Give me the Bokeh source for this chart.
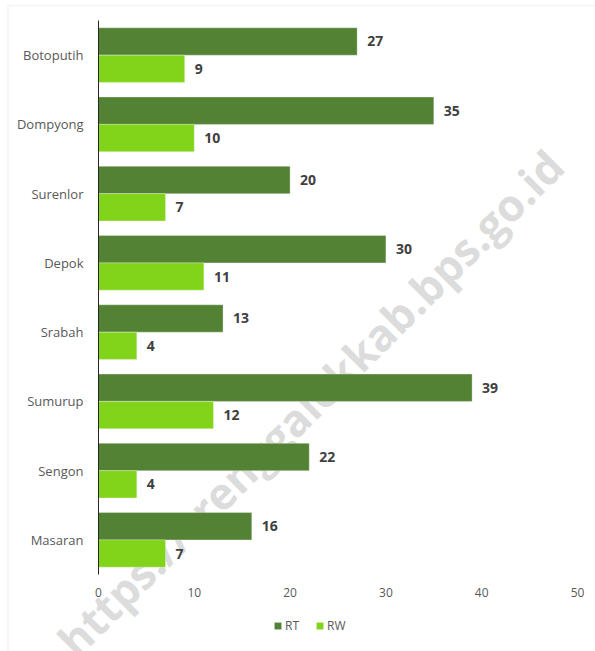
from bokeh.plotting import figure
from bokeh.models import (ColumnDataSource, Range1d, Label, Legend, LegendItem, FixedTicker,
                          LinearAxis, BoxAnnotation)
from bokeh.transform import dodge
from bokeh.core.properties import value
from bokeh.embed import file_html
from bokeh.resources import INLINE

# ---- data ----
categories = ["Botoputih", "Dompyong", "Surenlor", "Depok", "Srabah", "Sumurup", "Sengon", "Masaran"]
rt_values = [27, 35, 20, 30, 13, 39, 22, 16]
rw_values = [9, 10, 7, 11, 4, 12, 4, 7]
series_names = ["RT", "RW"]
x_ticks = [0, 10, 20, 30, 40, 50]
watermark_text = "https://trenggalekkab.bps.go.id"

RT_COLOR = "#548235"
RW_COLOR = "#81D41A"
FONT = "Open Sans"

W, H = 595, 651
# plot-area layout in pixels
AX_LEFT, AX_RIGHT, AX_TOP, AX_BOTTOM = 98, 577, 20, 574
X_MAX = x_ticks[-1]
n = len(categories)
px_x = (AX_RIGHT - AX_LEFT) / X_MAX
px_y = (AX_BOTTOM - AX_TOP) / n

# category slot centres (top category first)
y_pos = [n - i - 0.5 for i in range(n)]

source = ColumnDataSource(dict(
    y=y_pos,
    cat=categories,
    rt=rt_values,
    rw=rw_values,
    rt_lbl=[str(v) for v in rt_values],
    rw_lbl=[str(v) for v in rw_values],
))

p = figure(
    width=W, height=H,
    x_range=Range1d(-AX_LEFT / px_x, X_MAX + (W - AX_RIGHT) / px_x),
    y_range=Range1d(-(H - AX_BOTTOM) / px_y, n + AX_TOP / px_y),
    x_axis_location=None, y_axis_location=None,
    output_backend="svg", toolbar_location=None,
    min_border_left=0, min_border_right=0, min_border_top=0, min_border_bottom=0,
)
p.outline_line_color = None
p.background_fill_color = "white"
p.border_fill_color = "white"
p.xgrid.grid_line_color = None
p.ygrid.grid_line_color = None

# faint page frame
p.add_layout(BoxAnnotation(left=7.5, right=W + 20, top=5, bottom=H + 20,
                           left_units="canvas", right_units="canvas",
                           top_units="canvas", bottom_units="canvas",
                           fill_alpha=0, line_color="#e2e2e2", line_width=2))

# watermark (behind bars)
wm = Label(x=22.1, y=2.48, text=watermark_text, angle=45, angle_units="deg",
           text_align="center", text_baseline="middle",
           text_font=FONT, text_font_style="bold", text_font_size="44px",
           text_color="#dcdcdc", level="underlay")
p.add_layout(wm)

off = 0.197
h = 0.394
r_rt = p.hbar(y=dodge("y", off), right="rt", left=0, height=h, source=source,
              fill_color=RT_COLOR, line_color="white", line_alpha=0.3, line_width=1)
r_rw = p.hbar(y=dodge("y", -off), right="rw", left=0, height=h, source=source,
              fill_color=RW_COLOR, line_color="white", line_alpha=0.3, line_width=1)

for col, lbl, o in (("rt", "rt_lbl", off), ("rw", "rw_lbl", -off)):
    p.text(x=col, y=dodge("y", o), text=lbl, source=source,
           x_offset=10, text_baseline="middle", text_align="left",
           text_font=value(FONT), text_font_style="bold", text_font_size="14px",
           text_color="#404040")

# axes
xaxis = LinearAxis(ticker=FixedTicker(ticks=x_ticks), fixed_location=0)
xaxis.axis_line_color = None
xaxis.major_tick_line_color = None
xaxis.minor_tick_line_color = None
xaxis.major_tick_out = 0
xaxis.major_label_standoff = 13
xaxis.major_label_text_font = FONT
xaxis.major_label_text_font_size = "12px"
xaxis.major_label_text_color = "#595959"
p.add_layout(xaxis, "below")

yaxis = LinearAxis(ticker=FixedTicker(ticks=y_pos), fixed_location=0, bounds=(0, n),
                   major_label_overrides={y: c for y, c in zip(y_pos, categories)})
yaxis.axis_line_color = "#262626"
yaxis.axis_line_width = 1
yaxis.major_tick_line_color = None
yaxis.minor_tick_line_color = None
yaxis.major_tick_out = 0
yaxis.major_label_standoff = 15
yaxis.major_label_text_font = FONT
yaxis.major_label_text_font_size = "13px"
yaxis.major_label_text_color = "#595959"
p.add_layout(yaxis, "left")

legend = Legend(items=[LegendItem(label=series_names[0], renderers=[r_rt]),
                       LegendItem(label=series_names[1], renderers=[r_rw])],
                location=(273, 17), orientation="horizontal",
                glyph_width=9, glyph_height=9, label_height=12, label_standoff=3,
                spacing=10, padding=0, margin=0,
                label_text_font=FONT, label_text_font_size="12px", label_text_color="#595959",
                border_line_color=None, background_fill_alpha=0)
p.add_layout(legend, "center")

open("out.html", "w").write(file_html(p, INLINE))
